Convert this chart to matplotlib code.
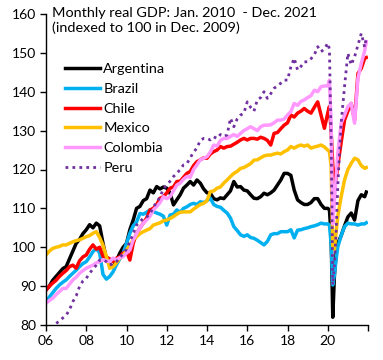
import matplotlib
matplotlib.use("Agg")
import matplotlib.pyplot as plt

plt.rcParams['font.family'] = ['Lato', 'DejaVu Sans']

# sample dates: every other month up to 2019, denser through the 2020 slump
pre_months = [1, 3, 5, 7, 9, 11]
dates = [y + (m - 1) / 12 for y in range(2006, 2020) for m in pre_months]
dates += [2020 + (m - 1) / 12 for m in [1, 2, 3, 4, 5, 6, 7, 9, 11]]
dates += [2021 + (m - 1) / 12 for m in [1, 3, 5, 7, 9, 11, 12]]

argentina = [
    89.0, 90.0, 91.5, 92.5, 93.5, 94.5,
    95.0, 97.0, 99.0, 101.0, 102.0, 103.5,
    104.5, 105.8, 105.0, 106.2, 105.5, 101.0,
    97.0, 95.5, 95.0, 96.5, 98.5, 100.0,
    101.0, 104.5, 107.0, 110.0, 110.5, 112.0,
    112.5, 114.7, 114.0, 115.6, 115.0, 115.5,
    115.2, 113.9, 110.9, 112.2, 113.5, 115.2,
    116.0, 116.9, 116.0, 117.3, 116.5, 115.0,
    114.0, 113.9, 112.5, 112.2, 112.7, 112.5,
    113.5, 114.5, 116.9, 115.5, 115.6, 114.7,
    114.5, 113.5, 112.6, 112.5, 113.0, 113.9,
    113.5, 114.0, 114.7, 116.0, 117.3, 119.0,
    119.0, 118.5, 114.7, 112.2, 111.5, 111.0,
    111.0, 111.5, 112.5, 112.5, 111.0, 110.0,
    110.0, 109.6, 103.0, 82.0, 93.0, 98.5, 101.0, 103.0, 105.5,
    107.8, 108.8, 107.0, 112.0, 113.5, 113.0, 114.2,
]
brazil = [
    86.0, 87.2, 88.3, 89.4, 90.3, 91.0,
    91.6, 92.5, 93.3, 94.1, 95.0, 95.8,
    96.3, 97.5, 98.9, 99.7, 98.5, 93.0,
    91.8, 92.5, 93.7, 95.5, 97.0, 98.5,
    101.0, 103.6, 105.5, 106.5, 108.7, 108.5,
    109.0, 109.6, 109.2, 108.8, 108.5, 108.0,
    105.7, 108.3, 108.5, 109.6, 109.0, 110.0,
    110.4, 111.0, 111.3, 111.0, 111.7, 111.5,
    112.0, 112.6, 111.0, 110.5, 110.3, 109.5,
    108.8, 107.5, 105.3, 104.3, 103.2, 102.8,
    103.2, 102.5, 102.3, 101.8, 101.2, 100.6,
    101.5, 103.2, 103.5, 103.5, 104.0, 104.0,
    104.0, 104.5, 102.4, 104.4, 104.5, 104.8,
    105.0, 105.3, 105.5, 105.8, 106.2, 106.0,
    106.0, 105.7, 101.0, 90.3, 93.0, 97.0, 100.1, 103.0, 105.3,
    106.2, 106.0, 106.0, 105.7, 106.0, 106.0, 106.3,
]
chile = [
    89.0, 90.0, 90.8, 91.5, 92.5, 93.3,
    94.0, 95.0, 95.4, 94.6, 96.5, 97.5,
    98.0, 99.5, 100.6, 99.5, 100.0, 97.6,
    97.5, 97.0, 96.3, 97.2, 97.5, 98.5,
    99.0, 96.7, 101.0, 103.5, 105.0, 106.2,
    107.5, 109.6, 110.0, 111.0, 112.6, 113.0,
    114.0, 115.2, 115.5, 116.9, 117.0, 118.0,
    119.0, 119.5, 121.0, 122.0, 122.5, 123.0,
    122.9, 124.0, 124.6, 125.0, 125.9, 125.5,
    125.9, 126.0, 126.5, 127.0, 127.6, 128.0,
    127.6, 128.0, 128.0, 127.8, 128.3, 128.0,
    127.5, 126.3, 129.3, 129.5, 130.5, 131.4,
    132.0, 134.0, 133.5, 134.5, 135.0, 135.7,
    135.0, 134.5, 136.0, 137.4, 134.0, 130.6,
    134.5, 136.2, 130.0, 121.0, 116.5, 117.5, 121.0, 127.0, 132.7,
    135.0, 137.0, 132.7, 144.7, 146.0, 148.6, 148.8,
]
mexico = [
    98.0, 99.0, 99.7, 100.0, 100.2, 100.6,
    100.6, 101.0, 101.4, 101.7, 101.9, 102.3,
    102.7, 103.0, 103.6, 104.0, 102.5, 100.5,
    97.6, 94.6, 95.0, 96.0, 97.2, 97.8,
    99.3, 100.5, 101.9, 102.7, 103.5, 104.0,
    104.4, 104.8, 105.7, 106.0, 106.3, 106.8,
    107.0, 107.4, 107.9, 108.5, 109.0, 109.1,
    109.1, 109.1, 109.8, 110.4, 111.0, 111.3,
    112.0, 114.3, 114.5, 115.2, 115.5, 116.5,
    117.3, 118.2, 119.0, 119.5, 120.3, 120.5,
    121.0, 121.5, 122.4, 122.5, 123.0, 123.5,
    123.7, 123.7, 124.0, 124.2, 124.0, 124.6,
    125.0, 125.9, 125.5, 126.0, 126.3, 126.0,
    126.3, 125.5, 125.8, 126.0, 126.3, 125.8,
    125.0, 124.6, 121.0, 100.0, 99.5, 104.0, 108.0, 113.0, 117.3,
    120.0, 121.6, 122.9, 122.5, 121.0, 120.3, 120.5,
]
colombia = [
    85.6, 86.3, 86.9, 87.8, 88.6, 89.4,
    89.4, 90.5, 91.6, 92.3, 93.3, 94.0,
    94.6, 95.0, 95.4, 96.0, 96.3, 96.8,
    96.5, 96.3, 97.2, 96.8, 97.3, 97.6,
    98.5, 99.3, 101.9, 103.5, 105.0, 106.2,
    107.0, 108.0, 109.6, 110.5, 111.5, 113.0,
    112.5, 113.0, 114.5, 116.0, 116.5, 117.5,
    118.2, 118.0, 120.0, 121.2, 122.5, 122.9,
    123.3, 124.5, 126.3, 126.0, 127.5, 128.0,
    128.0, 128.5, 129.0, 128.5, 129.3, 130.0,
    130.5, 131.0, 130.5, 130.0, 131.0, 131.4,
    131.4, 131.5, 132.0, 132.7, 132.7, 133.0,
    134.0, 134.9, 137.0, 136.5, 137.5, 137.9,
    138.5, 139.0, 140.4, 140.0, 141.3, 141.5,
    141.5, 143.0, 132.0, 106.0, 112.0, 118.0, 124.2, 131.9, 134.0,
    136.2, 137.0, 131.9, 143.5, 147.3, 150.5, 152.9,
]
peru = [
    78.0, 78.8, 79.6, 80.4, 81.0, 81.8,
    82.5, 83.9, 86.0, 87.5, 89.9, 91.3,
    92.0, 93.3, 94.4, 95.4, 96.7, 96.8,
    96.3, 95.4, 95.8, 96.3, 97.3, 98.4,
    99.5, 101.4, 103.5, 105.7, 106.5, 107.5,
    107.8, 108.5, 110.4, 111.5, 113.0, 115.0,
    116.0, 117.0, 118.2, 119.0, 120.0, 121.2,
    121.5, 123.0, 124.5, 125.5, 127.5, 128.0,
    128.0, 127.6, 128.4, 128.0, 129.0, 128.5,
    128.9, 133.2, 131.0, 133.0, 134.0, 134.5,
    137.4, 136.0, 135.0, 137.9, 138.5, 140.0,
    138.3, 139.5, 140.9, 141.5, 142.2, 143.0,
    143.0, 146.4, 148.6, 145.6, 146.5, 147.7,
    147.7, 148.5, 149.5, 151.6, 150.3, 151.0,
    152.5, 151.0, 128.0, 90.3, 96.0, 104.0, 116.0, 132.0, 141.3,
    149.9, 146.9, 149.0, 152.0, 155.0, 151.5, 154.0,
]

series = [
    ("Argentina", argentina, "#000000", "-"),
    ("Brazil", brazil, "#00B0F0", "-"),
    ("Chile", chile, "#FF0000", "-"),
    ("Mexico", mexico, "#FFC000", "-"),
    ("Colombia", colombia, "#FF99FF", "-"),
    ("Peru", peru, "#7030A0", ":"),
]

fig = plt.figure(figsize=(3.83, 3.6), dpi=100)
ax = fig.add_axes([46 / 383, 1 - 325 / 360, 322 / 383, 311 / 360])

for name, vals, col, ls in series:
    if ls == ":":
        ax.plot(dates, vals, color=col, lw=2.0, ls=(0, (1, 1.5)), label=name)
    else:
        ax.plot(dates, vals, color=col, lw=2.5, ls=ls, label=name)

ax.set_xlim(2006, 2022)
ax.set_ylim(80, 160)
ax.set_yticks(range(80, 161, 10))
ax.set_xticks(range(2006, 2023, 2))
ax.set_xticklabels(["06", "08", "10", "12", "14", "16", "18", "20", ""])
ax.tick_params(labelsize=10, length=4, width=1, direction="out", pad=3)
for s in ["top", "right"]:
    ax.spines[s].set_visible(False)
for s in ["left", "bottom"]:
    ax.spines[s].set_linewidth(1)

fig.text(52 / 383, 1 - 7 / 360,
         "Monthly real GDP: Jan. 2010  - Dec. 2021\n(indexed to 100 in Dec. 2009)",
         ha="left", va="top", fontsize=10.4, linespacing=1.2)

leg = ax.legend(loc="upper left", bbox_to_anchor=(65 / 383, 1 - 63 / 360),
                bbox_transform=fig.transFigure, frameon=False, fontsize=10.4,
                handlelength=2.45, handletextpad=0.2, labelspacing=0.53,
                borderpad=0, borderaxespad=0)

fig.savefig("out.png", dpi=100)
